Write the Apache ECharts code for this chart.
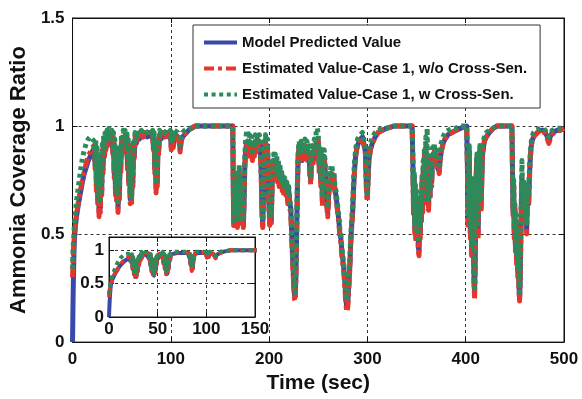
<!DOCTYPE html>
<html>
<head>
<meta charset="utf-8">
<script src="https://cdn.jsdelivr.net/npm/echarts@6/dist/echarts.min.js"></script>
<style>
  html, body { margin: 0; padding: 0; background: #fff; }
  #chart { width: 582px; height: 399px; }
</style>
</head>
<body>
<div id="chart"></div>
<script>
// Series names shown in the legend
const seriesNames = [
  'Model Predicted Value',
  'Estimated Value-Case 1, w/o Cross-Sen.',
  'Estimated Value-Case 1, w Cross-Sen.'
];

// [time (sec), ammonia coverage ratio]
const modelPredicted = [
[0,0],[0.5,0.18],[1,0.32],[1.5,0.42],[2,0.48],[3,0.54],[4,0.58],[6,0.64],[8,0.69],[10,0.74],[12,0.78],[14,0.81],[16,0.84],[18,0.86],[20,0.88],[22,0.9],
[23,0.82],[23.6,0.9],[24.3,0.72],[25,0.86],[25.6,0.66],[26.3,0.8],[27,0.6],[27.7,0.74],[28.3,0.62],[29,0.8],[29.7,0.7],[30.4,0.88],[31,0.8],[31.7,0.92],[32.5,0.86],[33.3,0.94],[34,0.9],[35,0.94],[36,0.92],[37,0.95],[38.5,0.93],[40,0.95],
[41,0.88],[41.7,0.94],[42.4,0.78],[43,0.9],[43.7,0.7],[44.4,0.86],[45,0.66],[45.7,0.8],[46.3,0.62],[47,0.76],[47.7,0.68],[48.4,0.86],[49,0.8],[49.8,0.92],[50.6,0.88],[51.5,0.94],[52.5,0.93],[53.5,0.95],
[54.5,0.9],[55.2,0.95],[55.9,0.82],[56.6,0.92],[57.3,0.74],[58,0.88],[58.7,0.66],[59.4,0.82],[60,0.65],[60.7,0.8],[61.4,0.74],[62,0.9],[62.8,0.86],[63.6,0.94],[65,0.92],[66.5,0.95],[68,0.94],[70,0.96],[72,0.95],[74,0.96],[76,0.95],[78,0.96],[80,0.95],[81.5,0.96],
[82.3,0.9],[83,0.94],[83.7,0.8],[84.4,0.88],[85,0.71],[85.6,0.8],[86.2,0.74],[86.9,0.9],[87.6,0.88],[88.5,0.95],[90,0.94],[92,0.96],[94,0.95],[96,0.96],[98,0.95],[99.5,0.96],
[100.5,0.9],[101.5,0.94],[102.5,0.91],[103.5,0.95],[105,0.96],[107,0.95],[108.5,0.93],[109.5,0.89],[110.5,0.93],[112,0.95],[114,0.96],[116,0.97],[118,0.98],[121,0.99],[125,1.0],[163,1.0],
[163.6,0.7],[164.2,0.54],[164.8,0.72],[165.4,0.58],[166,0.76],[166.6,0.56],[167.2,0.7],[167.8,0.55],[168.4,0.74],[169,0.6],[169.6,0.78],[170.2,0.58],[170.8,0.72],[171.4,0.55],[172,0.7],[172.6,0.57],[173.2,0.66],[173.8,0.54],[174.5,0.65],[175.2,0.8],[176,0.88],[177,0.92],[178,0.93],[179,0.9],[180,0.93],[181,0.88],[182,0.92],[183,0.86],[184,0.9],[185,0.88],[186,0.93],[187,0.9],[188,0.94],[189,0.92],[190,0.93],[191,0.91],
[192,0.78],[192.8,0.6],[193.5,0.54],[194.3,0.68],[195.2,0.86],[196.2,0.92],[197.2,0.9],[198.2,0.91],[199,0.8],[199.8,0.64],[200.6,0.55],[201.4,0.6],[202.2,0.56],[203,0.72],[203.8,0.8],[204.6,0.84],[205.5,0.82],
[206.3,0.84],[207,0.78],[207.8,0.83],[208.6,0.76],[209.4,0.82],[210.2,0.74],[211,0.8],[211.8,0.74],[212.6,0.78],[213.4,0.72],[214.2,0.76],[215,0.7],[216,0.74],[217,0.7],[218,0.72],[219,0.66],[220,0.7],[221,0.64],[222,0.62],[223,0.5],[224,0.38],[225,0.28],[225.8,0.22],[226.5,0.21],[227.2,0.3],[228,0.5],[228.8,0.72],[229.6,0.86],[230.5,0.9],
[231.5,0.86],[232.5,0.9],[233.5,0.84],[234.5,0.9],[235.5,0.86],[236.5,0.91],[237.5,0.87],[238.5,0.9],[239.5,0.84],[240.5,0.88],[241.5,0.78],[242.3,0.75],[243,0.82],[244,0.88],[245,0.84],[246,0.9],[247,0.86],[248,0.92],[249,0.9],[250,0.93],
[251,0.8],[251.8,0.88],[252.6,0.74],[253.4,0.84],[254.2,0.65],[255,0.8],[256,0.86],[257,0.8],[258,0.7],[258.8,0.64],[259.6,0.6],[260.4,0.66],[261.2,0.74],[262,0.72],[263,0.76],[264,0.78],[265,0.74],[266,0.76],[267,0.7],[268,0.68],
[269,0.64],[270,0.6],[271,0.56],[272,0.5],[273,0.48],[274,0.42],[275,0.38],[276,0.34],[277,0.28],[278,0.2],[279,0.16],[280,0.18],[281,0.26],[282,0.34],[283,0.46],[284,0.54],[285,0.6],[286,0.72],[287,0.8],[288,0.86],[289,0.89],[290,0.91],[291.5,0.93],[293,0.94],[295,0.95],[297,0.95],
[298,0.88],[299,0.72],[299.8,0.67],[300.6,0.74],[301.5,0.84],[303,0.89],[305,0.92],[308,0.95],[311,0.97],[315,0.98],[320,0.99],[327,1.0],[345.5,1.0],
[346.3,0.82],[347,0.6],[347.6,0.76],[348.2,0.52],[348.8,0.7],[349.4,0.48],[350,0.66],[350.6,0.5],[351.2,0.6],[351.8,0.44],[352.5,0.42],[353.2,0.56],[353.8,0.5],[354.4,0.66],[355,0.58],[355.6,0.74],[356.2,0.62],[356.8,0.8],[357.4,0.68],[358,0.86],[358.7,0.74],[359.4,0.9],[360.1,0.76],[360.8,0.86],[361.5,0.64],[362.2,0.63],[363,0.72],[363.8,0.68],[364.6,0.8],[365.4,0.74],[366.2,0.86],[367,0.82],[368,0.88],[369,0.84],[370,0.87],[371,0.82],[372,0.8],[373,0.79],[374,0.84],[375,0.88],[377,0.92],[379,0.94],[382,0.96],[386,0.97],[390,0.98],[395,0.99],[401,1.0],
[401.8,0.8],[402.4,0.55],[403,0.7],[403.6,0.88],[404.2,0.66],[404.8,0.5],[405.4,0.7],[406,0.42],[406.6,0.62],[407.2,0.74],[407.8,0.5],[408.4,0.3],[409,0.22],[409.6,0.36],[410.2,0.6],[410.8,0.78],[411.4,0.84],[412,0.64],[412.6,0.5],[413.2,0.66],[413.8,0.8],[414.4,0.88],[415,0.72],[415.6,0.62],[416.3,0.74],[417,0.86],[418,0.9],[419,0.93],[421,0.95],[424,0.97],[428,0.99],[432,1.0],[447,1.0],
[447.6,0.8],[448.2,0.6],[448.8,0.72],[449.4,0.5],[450,0.62],[450.6,0.44],[451.2,0.56],[451.8,0.38],[452.4,0.5],[453,0.32],[453.6,0.42],[454.2,0.26],[454.8,0.2],[455.4,0.28],[456,0.46],[456.6,0.62],[457.2,0.76],[457.8,0.68],[458.4,0.58],[459,0.72],[459.6,0.6],[460.2,0.7],[460.8,0.56],[461.4,0.66],[462,0.52],[462.6,0.62],[463.2,0.7],[464,0.64],[464.8,0.76],[465.6,0.84],[466.5,0.9],[467.5,0.93],[469,0.95],[471,0.96],[473,0.97],[476,0.98],[479,0.98],[481,0.97],[483,0.95],[484.6,0.93],[486,0.95],[488,0.97],[490,0.97],[493,0.98],[496,0.98],[500,0.99]
];

const estWithoutCross = [
[0,0.3],[0.5,0.38],[1,0.43],[1.5,0.47],[2,0.5],[3,0.55],[4,0.59],[6,0.65],[8,0.7],[10,0.75],[12,0.79],[14,0.83],[16,0.86],[18,0.88],[20,0.9],[22,0.91],
[23,0.8],[23.6,0.91],[24.3,0.7],[25,0.87],[25.6,0.64],[26.3,0.82],[27,0.58],[27.7,0.76],[28.3,0.6],[29,0.81],[29.7,0.68],[30.4,0.89],[31,0.78],[31.7,0.93],[32.5,0.85],[33.3,0.95],[34,0.89],[35,0.95],[36,0.91],[37,0.96],[38.5,0.93],[40,0.96],
[41,0.87],[41.7,0.95],[42.4,0.76],[43,0.91],[43.7,0.68],[44.4,0.87],[45,0.64],[45.7,0.81],[46.3,0.6],[47,0.77],[47.7,0.66],[48.4,0.87],[49,0.78],[49.8,0.93],[50.6,0.87],[51.5,0.95],[52.5,0.93],[53.5,0.96],
[54.5,0.89],[55.2,0.96],[55.9,0.8],[56.6,0.93],[57.3,0.72],[58,0.89],[58.7,0.64],[59.4,0.83],[60,0.63],[60.7,0.81],[61.4,0.72],[62,0.91],[62.8,0.85],[63.6,0.95],[65,0.92],[66.5,0.96],[68,0.94],[70,0.97],[72,0.95],[74,0.97],[76,0.95],[78,0.97],[80,0.95],[81.5,0.96],
[82.3,0.89],[83,0.95],[83.7,0.78],[84.4,0.89],[85,0.69],[85.6,0.81],[86.2,0.72],[86.9,0.91],[87.6,0.87],[88.5,0.96],[90,0.94],[92,0.97],[94,0.95],[96,0.97],[98,0.95],[99.5,0.96],
[100.5,0.89],[101.5,0.95],[102.5,0.9],[103.5,0.96],[105,0.96],[107,0.95],[108.5,0.92],[109.5,0.88],[110.5,0.93],[112,0.96],[114,0.96],[116,0.97],[118,0.98],[121,0.99],[125,1.0],[163,1.0],
[163.6,0.68],[164.2,0.53],[164.8,0.73],[165.4,0.56],[166,0.77],[166.6,0.55],[167.2,0.71],[167.8,0.53],[168.4,0.75],[169,0.58],[169.6,0.79],[170.2,0.56],[170.8,0.73],[171.4,0.54],[172,0.71],[172.6,0.55],[173.2,0.67],[173.8,0.53],[174.5,0.66],[175.2,0.81],[176,0.87],[177,0.91],[178,0.9],[179,0.86],[180,0.92],[181,0.85],[182,0.91],[183,0.84],[184,0.9],[185,0.86],[186,0.93],[187,0.88],[188,0.94],[189,0.91],[190,0.93],[191,0.9],
[192,0.76],[192.8,0.58],[193.5,0.53],[194.3,0.69],[195.2,0.87],[196.2,0.93],[197.2,0.89],[198.2,0.91],[199,0.78],[199.8,0.62],[200.6,0.54],[201.4,0.61],[202.2,0.55],[203,0.73],[203.8,0.81],[204.6,0.84],[205.5,0.81],
[206.3,0.83],[207,0.76],[207.8,0.82],[208.6,0.74],[209.4,0.81],[210.2,0.72],[211,0.79],[211.8,0.72],[212.6,0.77],[213.4,0.7],[214.2,0.75],[215,0.68],[216,0.73],[217,0.68],[218,0.71],[219,0.64],[220,0.69],[221,0.62],[222,0.6],[223,0.48],[224,0.36],[225,0.26],[225.8,0.2],[226.5,0.19],[227.2,0.28],[228,0.48],[228.8,0.71],[229.6,0.86],[230.5,0.9],
[231.5,0.85],[232.5,0.9],[233.5,0.83],[234.5,0.9],[235.5,0.85],[236.5,0.91],[237.5,0.86],[238.5,0.9],[239.5,0.83],[240.5,0.88],[241.5,0.76],[242.3,0.73],[243,0.81],[244,0.88],[245,0.83],[246,0.9],[247,0.85],[248,0.92],[249,0.89],[250,0.93],
[251,0.78],[251.8,0.88],[252.6,0.72],[253.4,0.84],[254.2,0.63],[255,0.8],[256,0.86],[257,0.79],[258,0.68],[258.8,0.62],[259.6,0.58],[260.4,0.65],[261.2,0.73],[262,0.71],[263,0.76],[264,0.78],[265,0.73],[266,0.76],[267,0.69],[268,0.67],
[269,0.63],[270,0.59],[271,0.55],[272,0.49],[273,0.46],[274,0.4],[275,0.36],[276,0.32],[277,0.26],[278,0.18],[279,0.14],[280,0.16],[281,0.24],[282,0.33],[283,0.45],[284,0.53],[285,0.6],[286,0.72],[287,0.8],[288,0.86],[289,0.89],[290,0.91],[291.5,0.93],[293,0.94],[295,0.95],[297,0.95],
[298,0.87],[299,0.7],[299.8,0.65],[300.6,0.73],[301.5,0.84],[303,0.89],[305,0.92],[308,0.95],[311,0.97],[315,0.98],[320,0.99],[327,1.0],[345.5,1.0],
[346.3,0.8],[347,0.58],[347.6,0.77],[348.2,0.5],[348.8,0.71],[349.4,0.46],[350,0.67],[350.6,0.48],[351.2,0.61],[351.8,0.42],[352.5,0.4],[353.2,0.55],[353.8,0.48],[354.4,0.67],[355,0.56],[355.6,0.75],[356.2,0.6],[356.8,0.81],[357.4,0.66],[358,0.87],[358.7,0.72],[359.4,0.91],[360.1,0.74],[360.8,0.87],[361.5,0.62],[362.2,0.61],[363,0.71],[363.8,0.66],[364.6,0.8],[365.4,0.72],[366.2,0.86],[367,0.81],[368,0.88],[369,0.83],[370,0.87],[371,0.81],[372,0.79],[373,0.78],[374,0.84],[375,0.88],[377,0.92],[379,0.94],[382,0.96],[386,0.97],[390,0.98],[395,0.99],[401,1.0],
[401.8,0.78],[402.4,0.53],[403,0.7],[403.6,0.89],[404.2,0.64],[404.8,0.48],[405.4,0.7],[406,0.4],[406.6,0.62],[407.2,0.75],[407.8,0.48],[408.4,0.28],[409,0.2],[409.6,0.34],[410.2,0.6],[410.8,0.79],[411.4,0.85],[412,0.62],[412.6,0.48],[413.2,0.66],[413.8,0.81],[414.4,0.89],[415,0.7],[415.6,0.6],[416.3,0.74],[417,0.87],[418,0.9],[419,0.93],[421,0.95],[424,0.97],[428,0.99],[432,1.0],[447,1.0],
[447.6,0.78],[448.2,0.58],[448.8,0.73],[449.4,0.48],[450,0.62],[450.6,0.42],[451.2,0.56],[451.8,0.36],[452.4,0.5],[453,0.3],[453.6,0.41],[454.2,0.24],[454.8,0.19],[455.4,0.27],[456,0.45],[456.6,0.62],[457.2,0.77],[457.8,0.67],[458.4,0.56],[459,0.72],[459.6,0.58],[460.2,0.7],[460.8,0.54],[461.4,0.66],[462,0.5],[462.6,0.62],[463.2,0.7],[464,0.63],[464.8,0.76],[465.6,0.84],[466.5,0.9],[467.5,0.93],[469,0.95],[471,0.96],[473,0.97],[476,0.98],[479,0.98],[481,0.96],[483,0.94],[484.6,0.92],[486,0.94],[488,0.96],[490,0.97],[493,0.98],[496,0.98],[500,0.99]
];

const estWithCross = [
[0,0.34],[0.5,0.42],[1,0.47],[1.5,0.51],[2,0.55],[3,0.6],[4,0.65],[6,0.72],[8,0.79],[10,0.85],[12,0.89],[14,0.92],[16,0.94],[18,0.95],[20,0.95],[22,0.93],
[23,0.84],[23.6,0.94],[24.3,0.74],[25,0.9],[25.6,0.68],[26.3,0.86],[27,0.64],[27.7,0.8],[28.3,0.66],[29,0.86],[29.7,0.74],[30.4,0.93],[31,0.84],[31.7,0.96],[32.5,0.9],[33.3,0.98],[34,0.93],[35,0.98],[36,0.95],[37,0.99],[38.5,0.96],[40,0.98],
[41,0.9],[41.7,0.97],[42.4,0.8],[43,0.94],[43.7,0.72],[44.4,0.9],[45,0.68],[45.7,0.85],[46.3,0.65],[47,0.82],[47.7,0.72],[48.4,0.9],[49,0.83],[49.8,0.96],[50.6,0.91],[51.5,0.98],[52.5,0.96],[53.5,0.98],
[54.5,0.92],[55.2,0.98],[55.9,0.84],[56.6,0.95],[57.3,0.76],[58,0.92],[58.7,0.68],[59.4,0.86],[60,0.67],[60.7,0.84],[61.4,0.77],[62,0.94],[62.8,0.89],[63.6,0.97],[65,0.95],[66.5,0.98],[68,0.96],[70,0.98],[72,0.97],[74,0.98],[76,0.97],[78,0.98],[80,0.97],[81.5,0.98],
[82.3,0.91],[83,0.97],[83.7,0.82],[84.4,0.92],[85,0.73],[85.6,0.84],[86.2,0.77],[86.9,0.94],[87.6,0.9],[88.5,0.98],[90,0.97],[92,0.98],[94,0.97],[96,0.98],[98,0.97],[99.5,0.98],
[100.5,0.92],[101.5,0.97],[102.5,0.93],[103.5,0.98],[105,0.98],[107,0.97],[108.5,0.95],[109.5,0.91],[110.5,0.95],[112,0.97],[114,0.98],[116,0.98],[118,0.99],[121,0.99],[125,1.0],[163,1.0],
[163.6,0.72],[164.2,0.56],[164.8,0.75],[165.4,0.6],[166,0.8],[166.6,0.58],[167.2,0.74],[167.8,0.57],[168.4,0.78],[169,0.62],[169.6,0.82],[170.2,0.6],[170.8,0.75],[171.4,0.57],[172,0.73],[172.6,0.59],[173.2,0.7],[173.8,0.56],[174.5,0.69],[175.2,0.85],[176,0.93],[177,0.97],[178,0.98],[179,0.93],[180,0.96],[181,0.9],[182,0.95],[183,0.88],[184,0.93],[185,0.9],[186,0.96],[187,0.92],[188,0.97],[189,0.94],[190,0.96],[191,0.93],
[192,0.8],[192.8,0.62],[193.5,0.56],[194.3,0.72],[195.2,0.9],[196.2,0.96],[197.2,0.93],[198.2,0.94],[199,0.83],[199.8,0.66],[200.6,0.57],[201.4,0.63],[202.2,0.58],[203,0.76],[203.8,0.84],[204.6,0.87],[205.5,0.85],
[206.3,0.87],[207,0.8],[207.8,0.86],[208.6,0.78],[209.4,0.84],[210.2,0.76],[211,0.82],[211.8,0.76],[212.6,0.8],[213.4,0.74],[214.2,0.78],[215,0.72],[216,0.76],[217,0.72],[218,0.74],[219,0.68],[220,0.72],[221,0.66],[222,0.63],[223,0.52],[224,0.4],[225,0.3],[225.8,0.24],[226.5,0.23],[227.2,0.32],[228,0.53],[228.8,0.76],[229.6,0.89],[230.5,0.93],
[231.5,0.89],[232.5,0.93],[233.5,0.87],[234.5,0.93],[235.5,0.89],[236.5,0.94],[237.5,0.9],[238.5,0.93],[239.5,0.87],[240.5,0.91],[241.5,0.8],[242.3,0.77],[243,0.85],[244,0.91],[245,0.87],[246,0.94],[247,0.9],[248,0.98],[249,0.99],[250,0.96],
[251,0.83],[251.8,0.91],[252.6,0.76],[253.4,0.87],[254.2,0.67],[255,0.83],[256,0.89],[257,0.83],[258,0.72],[258.8,0.66],[259.6,0.62],[260.4,0.69],[261.2,0.78],[262,0.76],[263,0.82],[264,0.81],[265,0.77],[266,0.79],[267,0.72],[268,0.7],
[269,0.66],[270,0.62],[271,0.58],[272,0.52],[273,0.5],[274,0.44],[275,0.4],[276,0.36],[277,0.3],[278,0.23],[279,0.19],[280,0.21],[281,0.29],[282,0.37],[283,0.49],[284,0.57],[285,0.64],[286,0.76],[287,0.84],[288,0.89],[289,0.92],[290,0.94],[291.5,0.95],[293,0.96],[295,0.97],[297,0.97],
[298,0.9],[299,0.74],[299.8,0.69],[300.6,0.77],[301.5,0.87],[303,0.92],[305,0.95],[308,0.97],[311,0.98],[315,0.99],[320,0.99],[327,1.0],[345.5,1.0],
[346.3,0.84],[347,0.63],[347.6,0.79],[348.2,0.55],[348.8,0.74],[349.4,0.52],[350,0.7],[350.6,0.54],[351.2,0.64],[351.8,0.48],[352.5,0.46],[353.2,0.6],[353.8,0.54],[354.4,0.7],[355,0.62],[355.6,0.78],[356.2,0.66],[356.8,0.84],[357.4,0.72],[358,0.9],[358.7,0.78],[359.4,0.95],[360.1,0.82],[360.8,0.99],[361.5,0.68],[362.2,0.66],[363,0.76],[363.8,0.7],[364.6,0.84],[365.4,0.77],[366.2,0.9],[367,0.85],[368,0.92],[369,0.87],[370,0.9],[371,0.85],[372,0.83],[373,0.82],[374,0.88],[375,0.92],[377,0.95],[379,0.97],[382,0.98],[386,0.99],[390,0.99],[395,1.0],[401,1.0],
[401.8,0.82],[402.4,0.58],[403,0.73],[403.6,0.91],[404.2,0.69],[404.8,0.53],[405.4,0.73],[406,0.45],[406.6,0.65],[407.2,0.77],[407.8,0.53],[408.4,0.33],[409,0.25],[409.6,0.39],[410.2,0.63],[410.8,0.81],[411.4,0.87],[412,0.67],[412.6,0.53],[413.2,0.69],[413.8,0.83],[414.4,0.91],[415,0.75],[415.6,0.65],[416.3,0.77],[417,0.89],[418,0.93],[419,0.95],[421,0.97],[424,0.98],[428,0.99],[432,1.0],[447,1.0],
[447.6,0.82],[448.2,0.62],[448.8,0.75],[449.4,0.53],[450,0.65],[450.6,0.47],[451.2,0.59],[451.8,0.41],[452.4,0.53],[453,0.35],[453.6,0.45],[454.2,0.29],[454.8,0.23],[455.4,0.31],[456,0.5],[456.6,0.67],[457.2,0.84],[457.8,0.72],[458.4,0.61],[459,0.75],[459.6,0.63],[460.2,0.73],[460.8,0.59],[461.4,0.69],[462,0.55],[462.6,0.65],[463.2,0.73],[464,0.67],[464.8,0.79],[465.6,0.87],[466.5,0.92],[467.5,0.95],[469,0.97],[471,0.98],[473,0.98],[476,0.99],[479,0.99],[481,0.98],[483,0.96],[484.6,0.95],[486,0.96],[488,0.98],[490,0.98],[493,0.99],[496,0.99],[500,0.99]
];

// Axis ranges and tick steps
const mainX = { min: 0, max: 500, step: 100 };
const mainY = { min: 0, max: 1.5, step: 0.5 };
const insetX = { min: 0, max: 150, step: 50 };
const insetY = { min: 0, max: 1.2, step: 0.5 };

const FONT = '"Liberation Sans", Arial, Helvetica, sans-serif';
const INK = '#111';

const palette = ['#3a48a8', '#e5362b', '#2d8a5a'];
const dashes = ['solid', [10, 4, 4, 4], [4, 3.6]];

const chart = echarts.init(document.getElementById('chart'), null, { renderer: 'canvas' });

function valueAxis(range, grid, opts) {
  return Object.assign({
    type: 'value',
    gridIndex: grid,
    min: range.min,
    max: range.max,
    interval: range.step,
    axisLine: { show: true, onZero: false, lineStyle: { color: INK, width: 1 } },
    axisTick: { show: true, inside: true, length: 5, lineStyle: { color: INK, width: 1 } },
    splitLine: { show: true, lineStyle: { color: '#333', width: 1, type: [3, 3] } },
    axisLabel: { show: true, color: INK, fontFamily: FONT, fontWeight: 'bold', fontSize: 17 }
  }, opts);
}

function mirror(range, grid, pos, z) {
  return {
    type: 'value', gridIndex: grid, position: pos, z: z,
    min: range.min, max: range.max, interval: range.step,
    axisLine: { show: true, onZero: false, lineStyle: { color: INK, width: 1 } },
    axisTick: { show: true, inside: true, length: 5, lineStyle: { color: INK, width: 1 } },
    splitLine: { show: false },
    axisLabel: { show: false }
  };
}

const seriesData = [modelPredicted, estWithoutCross, estWithCross];

const series = [];
seriesData.forEach((d, i) => {
  series.push({
    name: seriesNames[i], type: 'line', xAxisIndex: 0, yAxisIndex: 0,
    data: d, showSymbol: false, symbol: 'none', smooth: false, z: 2 + i,
    lineStyle: { color: palette[i], width: 5, type: dashes[i], cap: 'butt', join: 'round' },
    itemStyle: { color: palette[i] },
    animation: false
  });
});
seriesData.forEach((d, i) => {
  series.push({
    name: seriesNames[i], type: 'line', xAxisIndex: 2, yAxisIndex: 2,
    data: d, showSymbol: false, symbol: 'none', smooth: false, z: 10 + i, clip: true,
    lineStyle: { color: palette[i], width: 4, type: dashes[i], cap: 'butt', join: 'round' },
    itemStyle: { color: palette[i] },
    animation: false
  });
});

chart.setOption({
  animation: false,
  backgroundColor: '#fff',
  grid: [
    { left: 71, top: 18, right: 18, bottom: 54, show: true, borderColor: INK, borderWidth: 1, backgroundColor: '#fff' },
    { left: 109, top: 237, width: 146, height: 80, show: true, borderColor: INK, borderWidth: 1, backgroundColor: '#fff', z: 5 }
  ],
  xAxis: [
    valueAxis(mainX, 0, {
      position: 'bottom',
      name: 'Time (sec)', nameLocation: 'middle', nameGap: 27,
      nameTextStyle: { color: INK, fontFamily: FONT, fontWeight: 'bold', fontSize: 21 },
      axisLabel: { show: true, color: INK, fontFamily: FONT, fontWeight: 'bold', fontSize: 17, margin: 9 }
    }),
    mirror(mainX, 0, 'top', 0),
    valueAxis(insetX, 1, {
      position: 'bottom', z: 6,
      axisLabel: { show: true, color: INK, fontFamily: FONT, fontWeight: 'bold', fontSize: 17, margin: 4 }
    }),
    mirror(insetX, 1, 'top', 6)
  ],
  yAxis: [
    valueAxis(mainY, 0, {
      position: 'left',
      name: 'Ammonia Coverage Ratio', nameLocation: 'middle', nameGap: 42,
      nameTextStyle: { color: INK, fontFamily: FONT, fontWeight: 'bold', fontSize: 22 },
      axisLabel: { show: true, color: INK, fontFamily: FONT, fontWeight: 'bold', fontSize: 17, margin: 8 }
    }),
    mirror(mainY, 0, 'right', 0),
    valueAxis(insetY, 1, {
      position: 'left', z: 6,
      axisLabel: { show: true, color: INK, fontFamily: FONT, fontWeight: 'bold', fontSize: 17, margin: 5, showMaxLabel: false }
    }),
    mirror(insetY, 1, 'right', 6)
  ],
  legend: {
    data: seriesNames,
    orient: 'vertical',
    left: 193, top: 25,
    padding: [10, 13, 6, 9],
    itemWidth: 33, itemHeight: 14, itemGap: 11,
    itemStyle: { opacity: 0 },
    lineStyle: { width: 4 },
    backgroundColor: '#fff',
    borderColor: '#333', borderWidth: 1,
    textStyle: { color: INK, fontFamily: FONT, fontWeight: 'bold', fontSize: 15, padding: [0, 0, 0, 0] },
    selectedMode: false,
    z: 20
  },
  series: series
});
</script>
</body>
</html>
